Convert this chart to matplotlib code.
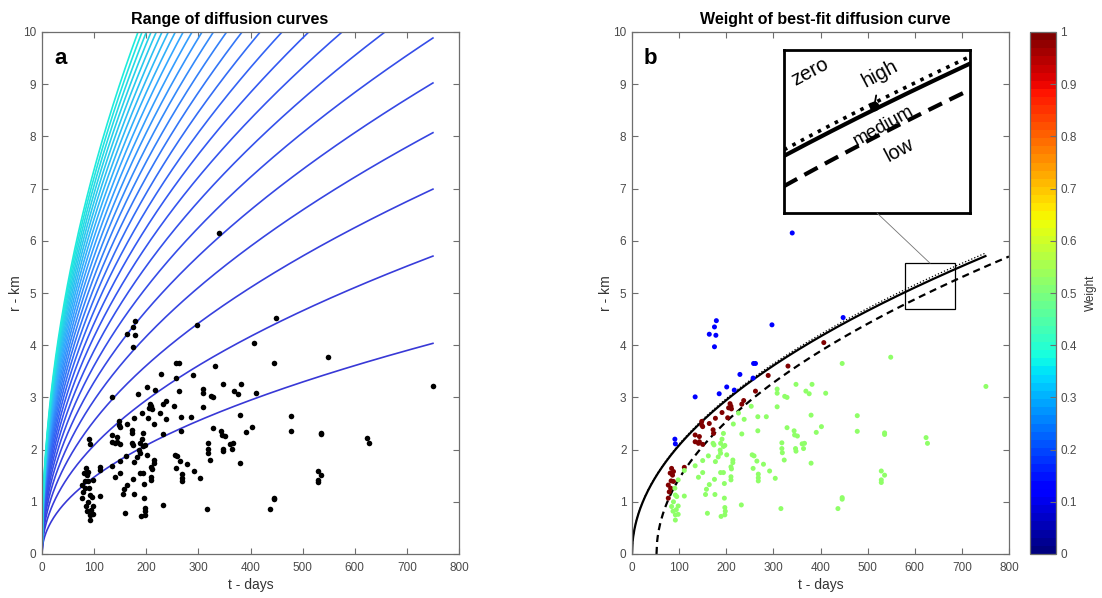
import numpy as np
import matplotlib
matplotlib.use("Agg")
import matplotlib.pyplot as plt
from matplotlib.colors import LinearSegmentedColormap, Normalize
from matplotlib.cm import ScalarMappable
from matplotlib.patches import Rectangle, ConnectionPatch

plt.rcParams['font.family'] = ['Liberation Sans', 'DejaVu Sans']

# ---- observations: time since injection (days), distance (km), fit weight ----
# points above the best-fit curve (weight ~0.12)
t_zero = [179, 175, 164, 178, 175, 297, 448, 340, 134, 229, 258, 262, 257, 185, 201, 217, 91, 92]
r_zero = [4.47, 4.35, 4.21, 4.19, 3.97, 4.39, 4.53, 6.15, 3.01, 3.44, 3.65, 3.65, 3.37, 3.07, 3.20, 3.14, 2.20, 2.11]
# points between the best-fit curve and the delayed curve (weight 1)
t_high = [407, 331, 289, 262, 237, 233, 208, 210, 205, 211, 203, 191, 177, 164, 148, 148, 150, 134,
          134, 143, 143, 141, 150, 172, 173, 111, 84, 88, 81, 86, 83, 88, 77, 82, 79, 77]
r_high = [4.05, 3.60, 3.42, 3.12, 2.94, 2.87, 2.88, 2.83, 2.80, 2.78, 2.61, 2.71, 2.60, 2.50, 2.54, 2.47, 2.44, 2.28,
          2.15, 2.25, 2.15, 2.12, 2.10, 2.38, 2.31, 1.66, 1.64, 1.58, 1.55, 1.51, 1.40, 1.39, 1.32, 1.26, 1.19, 1.07]
# points below the delayed curve (weight ~0.52)
t_med = [253, 226, 238, 215, 267, 285, 233, 267, 172, 174, 194, 191, 197, 188, 187, 188, 194, 201, 214, 214,
         210, 211, 210, 210, 194, 188, 196, 196, 197, 198, 197, 189, 183, 177, 162, 150, 134, 150, 141, 164,
         158, 156, 175, 176, 160, 232, 111, 111, 255, 259, 265, 257, 279, 292, 268, 268, 268, 304, 316,
         318, 318, 319, 323, 329, 344, 345, 351, 347, 348, 361, 366, 364, 380, 391, 402, 478, 478, 536, 536,
         529, 529, 529, 536, 437, 446, 446, 624, 627, 446, 549, 751, 308, 308, 308, 324, 329, 348, 382, 369,
         376, 411, 380, 91, 92, 95, 84, 87, 92, 92, 98, 98, 98, 88, 94]
r_med = [2.83, 2.70, 2.58, 2.49, 2.63, 2.63, 2.30, 2.36, 2.12, 2.09, 2.31, 2.20, 2.08, 2.12, 1.99, 1.93, 2.06, 1.90, 1.80, 1.75,
         1.67, 1.63, 1.48, 1.42, 1.56, 1.56, 1.35, 1.07, 0.89, 0.82, 0.75, 0.72, 1.86, 1.77, 1.88, 1.79, 1.69, 1.56, 1.47, 1.33,
         1.24, 1.14, 1.43, 1.14, 0.78, 0.94, 1.60, 1.11, 1.90, 1.88, 1.78, 1.64, 1.72, 1.59, 1.53, 1.46, 1.40, 1.45, 0.87,
         2.13, 2.02, 1.94, 1.80, 2.42, 2.36, 2.28, 2.26, 2.02, 1.97, 2.11, 2.12, 2.02, 1.74, 2.33, 2.44, 2.65, 2.35, 2.32, 2.29,
         1.59, 1.42, 1.37, 1.51, 0.87, 1.08, 1.05, 2.23, 2.12, 3.65, 3.77, 3.21, 3.16, 3.08, 2.82, 3.02, 3.00, 3.25, 3.25, 3.12,
         3.07, 3.08, 2.66, 1.26, 1.13, 1.10, 0.91, 0.82, 0.75, 0.65, 1.42, 0.92, 0.76, 1.00, 0.85]
weight_zero, weight_high, weight_med = 0.12, 1.0, 0.52

# ---- diffusion curves r = sqrt(4 pi D t) ----
D_range = [0.02, 0.04, 0.06, 0.08, 0.10, 0.12, 0.14, 0.16, 0.18, 0.20, 0.22, 0.24, 0.26,
           0.28, 0.30, 0.32, 0.34, 0.36, 0.38, 0.40, 0.42, 0.44, 0.46, 0.48, 0.50]   # m^2/s
D_best = 0.04          # best-fit diffusivity (m^2/s)
D_zero = 0.0408        # upper bound of the zero-weight zone
t_onset = 52           # delay of the lower curve (days)
t_end = 750            # last day of the curves
t_end_delayed = 800

def radius_km(D, t_days):
    t = np.clip(np.asarray(t_days, float), 0, None)
    return np.sqrt(4 * np.pi * D * t * 86400.0) / 1000.0

# zoom window drawn on panel b and the range shown in the magnified box
zoom_t = (580, 685)
zoom_r = (4.70, 5.57)
inset_t = (545, 720)
inset_r = (4.416, 5.699)
high_marker = (630, 5.26)

# ---- figure ----
W, H = 1102, 598
fig = plt.figure(figsize=(W / 100, H / 100), dpi=100)

def fig_rect(x0, y0, x1, y1):
    return [x0 / W, 1 - y1 / H, (x1 - x0) / W, (y1 - y0) / H]

spine_c = '#6e6e6e'
tick_c = '#4a4a4a'
label_c = '#333333'

def style_axes(ax, letter, title, title_x):
    ax.set_xlim(0, 800)
    ax.set_ylim(0, 10)
    ax.set_xticks(np.arange(0, 801, 100))
    ax.set_yticks(np.arange(0, 11, 1))
    ax.tick_params(direction='in', length=4, width=0.8, top=True, right=True,
                   colors=spine_c, labelcolor=tick_c, labelsize=8.5)
    ax.tick_params(axis='x', pad=6)
    ax.tick_params(axis='y', pad=4)
    for s in ax.spines.values():
        s.set_color(spine_c)
        s.set_linewidth(0.9)
    ax.set_xlabel('t - days', fontsize=10, color=label_c, labelpad=3)
    ax.set_ylabel('r - km', fontsize=10, color=label_c, labelpad=0)
    ax.set_title(title, fontsize=11.5, fontweight='bold', pad=6, x=title_x)
    ax.text(0.03, 0.97, letter, transform=ax.transAxes, fontsize=16,
            fontweight='bold', va='top', ha='left')

# ---- panel a ----
axa = fig.add_axes(fig_rect(42, 32, 459, 554))
curve_cmap = LinearSegmentedColormap.from_list(
    'fan', [(0.22, 0.22, 0.84), (0.20, 0.35, 0.95), (0.20, 0.65, 1.0), (0.12, 0.92, 0.86)])
t_curve = np.linspace(0, t_end, 600)
n = len(D_range)
for i, D in enumerate(D_range):
    axa.plot(t_curve, radius_km(D, t_curve), color=curve_cmap(i / (n - 1)), lw=1.2)
all_t = t_zero + t_high + t_med
all_r = r_zero + r_high + r_med
axa.scatter(all_t, all_r, s=16, color='black', zorder=3, linewidths=0)
style_axes(axa, 'a', 'Range of diffusion curves', 0.45)

# ---- panel b ----
axb = fig.add_axes(fig_rect(632, 32, 1009, 554))
jet64 = plt.get_cmap('jet', 64)
norm = Normalize(0, 1)
axb.plot(t_curve, radius_km(D_zero, t_curve), color='black', lw=0.9, ls=':', zorder=1)
axb.plot(t_curve, radius_km(D_best, t_curve), color='black', lw=1.6, zorder=2)
t_del = np.linspace(t_onset, t_end_delayed, 600)
axb.plot(t_del, radius_km(D_best, t_del - t_onset), color='black', lw=1.6, ls=(0, (3.2, 2.2)))
for tt, rr, w in ((t_zero, r_zero, weight_zero), (t_high, r_high, weight_high), (t_med, r_med, weight_med)):
    axb.scatter(tt, rr, s=13, c=[w] * len(tt), cmap=jet64, norm=norm, linewidths=0, zorder=3)
axb.add_patch(Rectangle((zoom_t[0], zoom_r[0]), zoom_t[1] - zoom_t[0], zoom_r[1] - zoom_r[0],
                        fill=False, edgecolor='black', lw=0.9, zorder=4))
style_axes(axb, 'b', 'Weight of best-fit diffusion curve', 0.512)

# ---- colour bar ----
cax = fig.add_axes(fig_rect(1030, 32, 1056, 554))
cb = fig.colorbar(ScalarMappable(norm=norm, cmap=jet64), cax=cax)
cb.set_ticks(np.round(np.arange(0, 1.01, 0.1), 1))
cb.set_ticklabels(['0', '0.1', '0.2', '0.3', '0.4', '0.5', '0.6', '0.7', '0.8', '0.9', '1'])
cax.tick_params(direction='in', length=4, width=0.8, colors=spine_c, labelcolor=tick_c,
                labelsize=8.5, pad=3)
cb.outline.set_edgecolor(spine_c)
cb.outline.set_linewidth(0.9)
cb.set_label('Weight', fontsize=8.5, color=label_c, labelpad=6)

# ---- magnified box ----
axi = fig.add_axes(fig_rect(784, 50, 970, 213))
axi.set_xlim(*inset_t)
axi.set_ylim(*inset_r)
axi.set_xticks([])
axi.set_yticks([])
for s in axi.spines.values():
    s.set_linewidth(2.0)
    s.set_color('black')
t_in = np.linspace(inset_t[0], inset_t[1], 200)
axi.plot(t_in, radius_km(D_zero, t_in), color='black', lw=2.6, ls=':')
axi.plot(t_in, radius_km(D_best, t_in), color='black', lw=3.0)
axi.plot(t_in, radius_km(D_best, t_in - t_onset), color='black', lw=3.0, ls=(0, (3.6, 2.0)))
axi.plot(*high_marker, 'o', color='black', ms=6, zorder=5)
txt_kw = dict(fontsize=14.5, rotation=28, ha='center', va='center', rotation_mode='anchor',
              transform=axi.transAxes)
axi.text(0.14, 0.865, 'zero', **txt_kw)
axi.text(0.535, 0.532, 'medium', fontsize=13.5, rotation=29, ha='center', va='center',
         rotation_mode='anchor', transform=axi.transAxes)
axi.text(0.62, 0.385, 'low', **txt_kw)
axi.annotate('high', xy=high_marker, xycoords='data', xytext=(0.516, 0.853),
             textcoords='axes fraction', fontsize=14.5, rotation=28, ha='center', va='center',
             rotation_mode='anchor',
             arrowprops=dict(arrowstyle='-', lw=1.3, color='black', shrinkA=1, shrinkB=2))

con = ConnectionPatch(xyA=(0.5, 0.0), coordsA=axi.transAxes,
                      xyB=((zoom_t[0] + zoom_t[1]) / 2, zoom_r[1]), coordsB=axb.transData,
                      color='0.45', lw=0.6)
fig.add_artist(con)

fig.savefig('out.png', dpi=100)
